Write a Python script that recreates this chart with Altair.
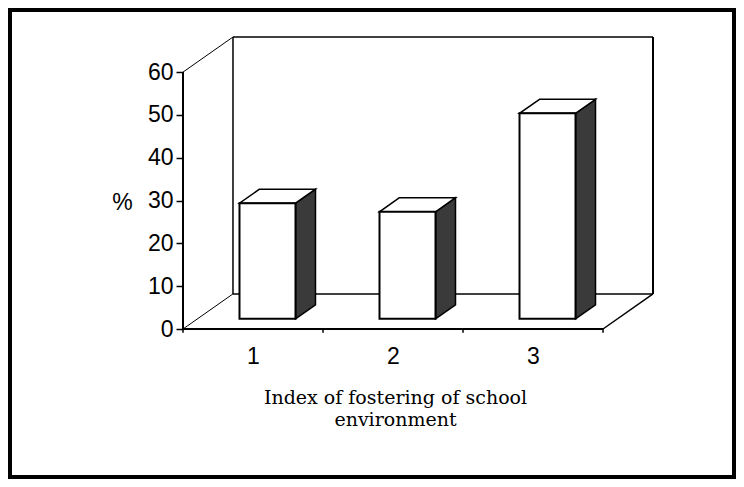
import altair as alt
import pandas as pd

# ---- data ----
categories = [1, 2, 3]
values = [27, 25, 48]
y_ticks = [0, 10, 20, 30, 40, 50, 60]
x_title = ["Index of fostering of school", "environment"]
y_title = "%"

# ---- 3D box geometry (in data units) ----
X0, X1 = 0.5, 3.5        # front floor extent
Y0, Y1 = 0, 60           # front wall extent
DX, DY = 0.357, 8.2      # depth offset of the back wall
HW = 0.2                 # bar half width
F, B = 0.29, 0.40        # bar front depth, bar depth (fractions)

W, H = 470, 292
PAD = {"left": 175, "top": 29, "right": 83, "bottom": 150}

xs = alt.Scale(domain=[X0, X1 + DX], nice=False, zero=False)
ys = alt.Scale(domain=[Y0, Y1 + DY], nice=False, zero=False)

x_axis = alt.Axis(
    values=categories, ticks=False, domain=False, grid=False,
    labelFont="Liberation Sans", labelFontSize=23, labelColor="black",
    labelPadding=16, labelFlush=False, format="d",
    title=x_title, titleFont="DejaVu Serif", titleFontSize=19,
    titleFontWeight="normal", titleColor="black",
    titleX=212, titleY=74, titleBaseline="alphabetic",
    titleAlign="center", titleAnchor="start", titleLineHeight=22,
)
y_axis = alt.Axis(
    values=y_ticks, domain=False, grid=False,
    tickSize=7, tickColor="black", tickWidth=1.5,
    labelFont="Liberation Sans", labelFontSize=23, labelColor="black",
    labelPadding=3, format="d",
    title=y_title, titleAngle=0, titleFont="Liberation Sans",
    titleFontSize=23, titleFontWeight="normal", titleColor="black",
    titleX=-61, titleY=165, titleAlign="center", titleBaseline="middle",
)

# front faces
front = pd.DataFrame({
    "cat": categories,
    "value": values,
})
front["xl"] = front["cat"] - HW + F * DX
front["xr"] = front["cat"] + HW + F * DX
front["yb"] = F * DY
front["yt"] = front["value"] + F * DY

# side and top faces (two points each)
side_rows = []
top_rows = []
for c, v in zip(categories, values):
    xl = c - HW + F * DX
    xr = c + HW + F * DX
    side_rows.append({"bar": c, "x": xr, "y": F * DY, "y2": v + F * DY})
    side_rows.append({"bar": c, "x": xr + B * DX, "y": (F + B) * DY, "y2": v + (F + B) * DY})
    top_rows.append({"bar": c, "y": v + F * DY, "x": xl, "x2": xr})
    top_rows.append({"bar": c, "y": v + (F + B) * DY, "x": xl + B * DX, "x2": xr + B * DX})
side = pd.DataFrame(side_rows)
top = pd.DataFrame(top_rows)

# box frame segments
frame = pd.DataFrame([
    {"x": X0 + DX, "y": Y0 + DY, "x2": X0 + DX, "y2": Y1 + DY, "w": 1.5},
    {"x": X0 + DX, "y": Y1 + DY, "x2": X1 + DX, "y2": Y1 + DY, "w": 1.5},
    {"x": X1 + DX, "y": Y0 + DY, "x2": X1 + DX, "y2": Y1 + DY, "w": 2},
    {"x": X0 + DX, "y": Y0 + DY, "x2": X1 + DX, "y2": Y0 + DY, "w": 1.5},
    {"x": X0, "y": Y0, "x2": X0 + DX, "y2": Y0 + DY, "w": 1},
    {"x": X0, "y": Y1, "x2": X0 + DX, "y2": Y1 + DY, "w": 1},
    {"x": X1, "y": Y0, "x2": X1 + DX, "y2": Y0 + DY, "w": 1.5},
    {"x": X0, "y": Y0, "x2": X1, "y2": Y0, "w": 2},
    {"x": X0, "y": Y0, "x2": X0, "y2": Y1, "w": 2},
])

# x tick marks at category boundaries
xticks = pd.DataFrame({"x": [0.5, 1.5, 2.5, 3.5]})
xticks["y"] = 0.0
xticks["y2"] = -0.9

frame_layer = alt.Chart(frame).mark_rule(color="black").encode(
    x=alt.X("x:Q", scale=xs, axis=x_axis),
    x2="x2:Q",
    y=alt.Y("y:Q", scale=ys, axis=y_axis),
    y2="y2:Q",
    strokeWidth=alt.StrokeWidth("w:Q", scale=None),
)

tick_layer = alt.Chart(xticks).mark_rule(color="black", strokeWidth=1.5).encode(
    x=alt.X("x:Q", scale=xs, axis=x_axis),
    y=alt.Y("y:Q", scale=ys, axis=y_axis),
    y2="y2:Q",
)

side_layer = alt.Chart(side).mark_area(
    fill="#3a3a3a", stroke="black", strokeWidth=1.5, opacity=1
).encode(
    x=alt.X("x:Q", scale=xs, axis=x_axis),
    y=alt.Y("y:Q", scale=ys, axis=y_axis),
    y2="y2:Q",
    detail="bar:N",
)

top_layer = alt.Chart(top).mark_area(
    orient="horizontal", fill="white", stroke="black", strokeWidth=1.5, opacity=1
).encode(
    y=alt.Y("y:Q", scale=ys, axis=y_axis),
    x=alt.X("x:Q", scale=xs, axis=x_axis),
    x2="x2:Q",
    detail="bar:N",
)

front_layer = alt.Chart(front).mark_rect(
    fill="white", stroke="black", strokeWidth=2
).encode(
    x=alt.X("xl:Q", scale=xs, axis=x_axis),
    x2="xr:Q",
    y=alt.Y("yb:Q", scale=ys, axis=y_axis),
    y2="yt:Q",
)

border = alt.Chart(pd.DataFrame({"a": [0]})).mark_rect(
    fill="white", fillOpacity=0, stroke="black", strokeWidth=4
).encode(
    x=alt.value(-PAD["left"] + 2),
    x2=alt.value(W + PAD["right"] - 2),
    y=alt.value(-PAD["top"] + 2),
    y2=alt.value(H + PAD["bottom"] - 2),
)

chart = alt.layer(
    frame_layer, side_layer, top_layer, front_layer, tick_layer, border
).properties(
    width=W, height=H,
    autosize=alt.AutoSizeParams(type="none"),
    padding=PAD,
    background="white",
).configure_view(stroke=None)

chart.save("out.html", embed_options={"renderer": "svg", "actions": False})
